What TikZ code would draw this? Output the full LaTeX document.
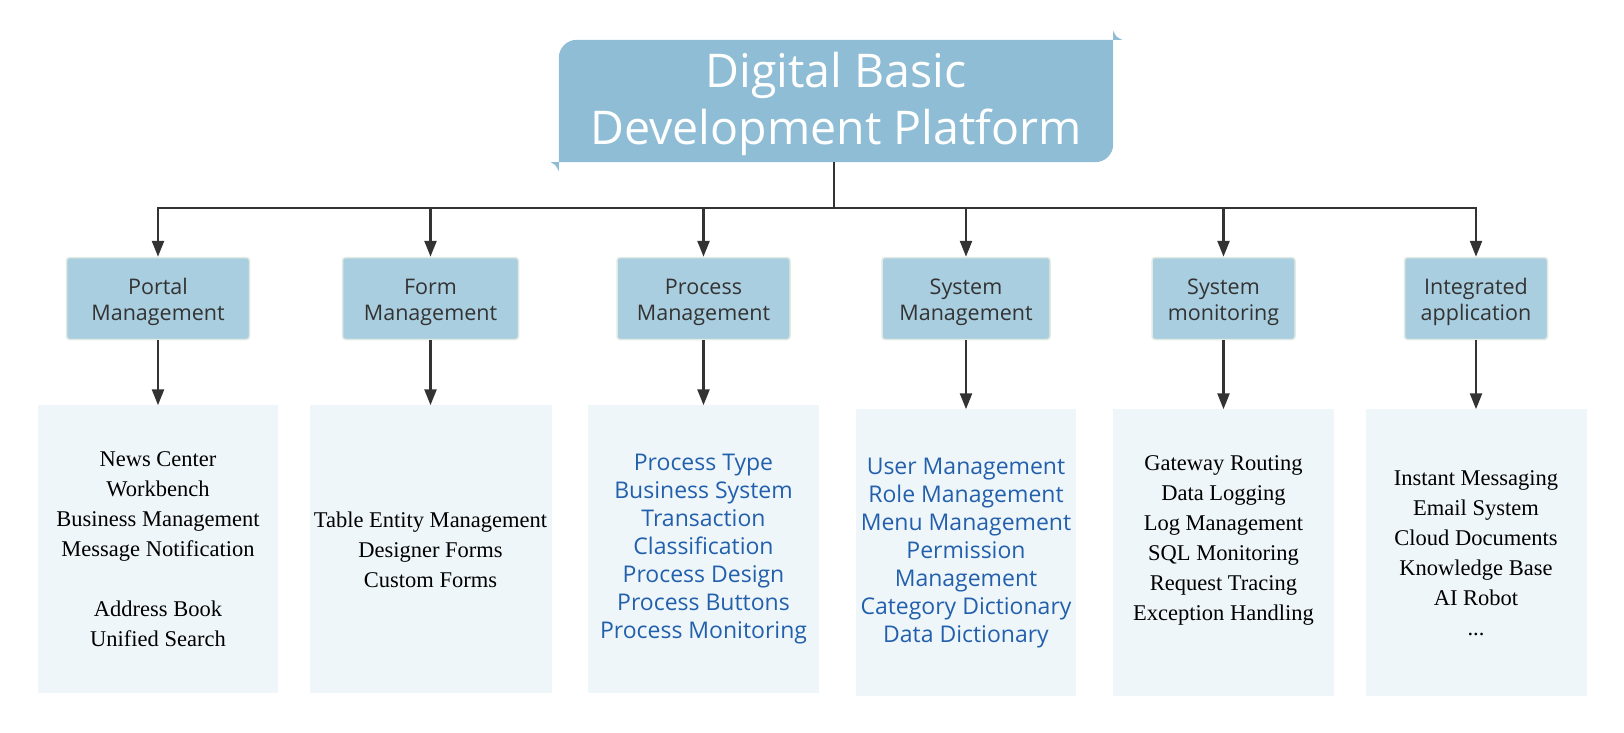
\documentclass[tikz,border=0pt]{standalone}
\usepackage{fontspec}
\setmainfont{Liberation Serif}
\newfontfamily\uifont{Open Sans}
\usetikzlibrary{arrows.meta,positioning,backgrounds}
\definecolor{headblue}{RGB}{142,189,213}
\definecolor{modblue}{RGB}{169,206,224}
\definecolor{modedge}{RGB}{226,234,228}
\definecolor{listbg}{RGB}{239,246,250}
\definecolor{linkgray}{RGB}{51,51,51}
\definecolor{itemblue}{RGB}{34,96,172}
\tikzset{
 headtitle/.style={
 rectangle,
 inner sep=0pt,
 align=center,
 text=white,
 text height=97pt,
 text depth=9pt,
 font=\uifont\fontsize{46.5}{57}\selectfont
 },
 module/.style={
 rectangle,
 rounded corners=3pt,
 draw=modedge,
 fill=modblue,
 line width=1.5pt,
 align=center,
 inner sep=0pt,
 minimum height=82pt,
 text height=46pt,
 text depth=3pt,
 text=linkgray,
 font=\uifont\fontsize{21.5}{26}\selectfont
 },
 itemlist/.style={
 rectangle,
 fill=listbg,
 align=center,
 inner sep=0pt,
 text=black,
 font=\fontsize{22.5}{30}\selectfont
 },
 blueitems/.style={
 itemlist,
 text=itemblue,
 font=\uifont\fontsize{23}{28}\selectfont
 },
 flowarrow/.style={-{Triangle[length=16pt,width=12pt]}, line width=2.5pt, draw=linkgray}
}

\begin{document}
\begin{tikzpicture}[x=1pt, y=-1pt]
	\useasboundingbox (0,0) rectangle (1624,733);

	\node[headtitle, minimum width=554pt, minimum height=122pt] (head) at (836,101) {Digital Basic\\Development Platform};
	\begin{scope}[on background layer]
		\fill[headblue] (head.north east) -- ([yshift=18pt]head.south east) arc[start angle=0, end angle=-90, radius=18pt] -- (head.south west) -- ([yshift=-18pt]head.north west) arc[start angle=180, end angle=90, radius=18pt] -- cycle;
		\fill[headblue] ([yshift=9pt]head.north east) -- (head.north east) -- ([xshift=9pt]head.north east) .. controls ([xshift=3pt, yshift=3pt]head.north east) .. ([yshift=9pt]head.north east) -- cycle;
		\fill[headblue] ([xshift=-8pt]head.south west) -- (head.south west) -- ([yshift=-9pt]head.south west) .. controls ([xshift=-3pt, yshift=-3pt]head.south west) .. ([xshift=-8pt]head.south west) -- cycle;
	\end{scope}

	\node[module, minimum width=183pt] (portal) at (158,298.5) {Portal\\Management};
	\node[module, minimum width=176pt] (form) at (430.5,298.5) {Form\\Management};
	\node[module, minimum width=173pt] (process) at (703.5,298.5) {Process\\Management};
	\node[module, minimum width=168pt] (sysman) at (966,298.5) {System\\Management};
	\node[module, minimum width=143pt] (sysmon) at (1223.5,298.5) {System\\monitoring};
	\node[module, minimum width=143pt] (integ) at (1476,298.5) {Integrated\\application};

	\node[itemlist, below=65pt of portal, minimum width=240pt, minimum height=288pt] (portallist) {News Center\\Workbench\\Business Management\\Message Notification\\[30pt]Address Book\\Unified Search};
	\node[itemlist, below=65pt of form, minimum width=242pt, minimum height=288pt] (formlist) {Table Entity Management\\Designer Forms\\Custom Forms};
	\node[blueitems, below=65pt of process, minimum width=231pt, minimum height=288pt] (processlist) {Process Type\\Business System\\Transaction\\Classification\\Process Design\\Process Buttons\\Process Monitoring};
	\node[blueitems, below=69pt of sysman, minimum width=220pt, minimum height=287pt] (sysmanlist) {User Management\\Role Management\\Menu Management\\Permission\\Management\\Category Dictionary\\Data Dictionary};
	\node[itemlist, below=69pt of sysmon, minimum width=221pt, minimum height=287pt] (sysmonlist) {Gateway Routing\\Data Logging\\Log Management\\SQL Monitoring\\Request Tracing\\Exception Handling\\\mbox{}};
	\node[itemlist, below=69pt of integ, minimum width=221pt, minimum height=287pt] (integlist) {Instant Messaging\\Email System\\Cloud Documents\\Knowledge Base\\AI Robot\\...};

	\coordinate (bar) at (834,208);
	\draw[flowarrow] (head.south -| bar) -- (bar) -| (portal.north);
	\draw[flowarrow] (head.south -| bar) -- (bar) -| (form.north);
	\draw[flowarrow] (head.south -| bar) -- (bar) -| (process.north);
	\draw[flowarrow] (head.south -| bar) -- (bar) -| (sysman.north);
	\draw[flowarrow] (head.south -| bar) -- (bar) -| (sysmon.north);
	\draw[flowarrow] (head.south -| bar) -- (bar) -| (integ.north);

	\draw[flowarrow] (portal) -- (portallist);
	\draw[flowarrow] (form) -- (formlist);
	\draw[flowarrow] (process) -- (processlist);
	\draw[flowarrow] (sysman) -- (sysmanlist);
	\draw[flowarrow] (sysmon) -- (sysmonlist);
	\draw[flowarrow] (integ) -- (integlist);
\end{tikzpicture}
\end{document}
